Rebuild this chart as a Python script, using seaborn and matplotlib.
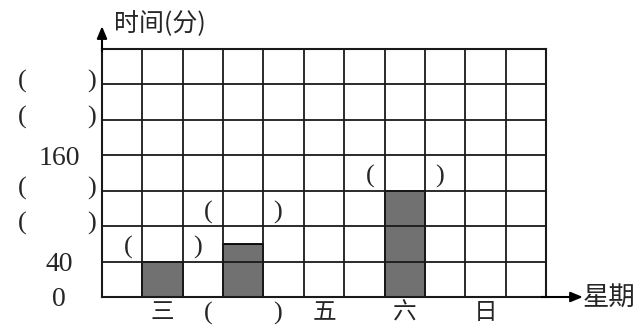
import numpy as np
import pandas as pd
import matplotlib
matplotlib.use("Agg")
import matplotlib.pyplot as plt
import matplotlib.transforms as mt
import seaborn as sns

# ---- data ----
slots = [1, 3, 7]                 # grid columns holding bars
minutes = [40, 60, 120]           # bar heights (minutes)
tick_slots = [1, 3, 5, 7, 9]
tick_labels = ["三", "", "五", "六", "日"]
blank_tick_slots = [3]            # "(   )" under x axis
y_number_ticks = [0, 40, 160]
y_blank_ticks = [80, 120, 200, 240]
n_cols = 11
y_max = 280
y_step = 40

sns.set_theme(style="white")
plt.rcParams['font.family'] = ['Noto Sans CJK SC', 'DejaVu Sans']
serif = ['Liberation Serif', 'DejaVu Serif']
cjk = ['Noto Sans CJK SC', 'DejaVu Sans']

fig = plt.figure(figsize=(6.44, 3.28), dpi=100)
ax = fig.add_axes([102/644, 1-297/328, 444/644, 248/328])

df = pd.DataFrame({"slot": slots, "minutes": minutes})
sns.barplot(data=df, x="slot", y="minutes", native_scale=True, width=0.5,
            color="#717171", saturation=1, edgecolor="black", linewidth=1.3, ax=ax)
for p in ax.patches:
    p.set_facecolor("#717171")

ax.set_xlim(-0.5, n_cols - 0.5)
ax.set_ylim(0, y_max)
ax.set_xlabel("")
ax.set_ylabel("")

# grid
ax.set_xticks(np.arange(-0.5, n_cols, 1), minor=True)
ax.set_yticks(np.arange(0, y_max + 1, y_step))
ax.grid(True, which="minor", axis="x", color="#1a1a1a", lw=1.3)
ax.grid(True, which="major", axis="y", color="#1a1a1a", lw=1.3)
ax.set_axisbelow(False)
for s in ax.spines.values():
    s.set_visible(True)
    s.set_color("#1a1a1a")
    s.set_linewidth(1.5)

# x ticks
ax.set_xticks(tick_slots)
ax.set_xticklabels(tick_labels, fontsize=17, family=cjk)
ax.tick_params(axis="x", which="both", length=0, pad=3)

# y ticks
ax.set_yticklabels([str(v) if v in y_number_ticks else "" for v in np.arange(0, y_max + 1, y_step)],
                   fontsize=20, family=serif)
for lab in ax.get_yticklabels():
    lab.set_horizontalalignment("center")
ax.tick_params(axis="y", length=0, pad=31)

half = 0.86  # paren half-spread in column units

def parens(x, y, trans):
    for dx, ch in ((-half, "("), (half, ")")):
        ax.text(x + dx, y, ch, transform=trans, ha="center", va="center",
                fontsize=19, family=serif, clip_on=False)

# parens above bars
for s, v in zip(slots, minutes):
    parens(s, np.ceil(v / y_step) * y_step + 16, ax.transData)

# parens under x axis
bt = mt.blended_transform_factory(ax.transData, ax.transAxes)
for s in blank_tick_slots:
    parens(s, -0.068, bt)

# parens on y axis
yt = mt.blended_transform_factory(ax.transAxes, ax.transData)
for v in y_blank_ticks:
    for dxp, ch in ((-80/444, "("), (-10/444, ")")):
        ax.text(dxp, v + 3, ch, transform=yt, ha="center", va="center",
                fontsize=19, family=serif, clip_on=False)

# axis arrows
ax.annotate("", xy=(0, 1.092), xytext=(0, 0.99), xycoords="axes fraction",
            arrowprops=dict(arrowstyle="-|>,head_length=0.6,head_width=0.25",
                            color="black", lw=1.5, shrinkA=0, shrinkB=0))
ax.annotate("", xy=(1.083, 0), xytext=(0.99, 0), xycoords="axes fraction",
            arrowprops=dict(arrowstyle="-|>,head_length=0.6,head_width=0.25",
                            color="black", lw=1.5, shrinkA=0, shrinkB=0))

ax.text(0.028, 1.10, "时间(分)", transform=ax.transAxes, ha="left", va="center",
        fontsize=18, family=cjk)
ax.text(1.083, 0.0, "星期", transform=ax.transAxes, ha="left", va="center",
        fontsize=19, family=cjk)

fig.savefig("out.png", dpi=100, facecolor="white")
